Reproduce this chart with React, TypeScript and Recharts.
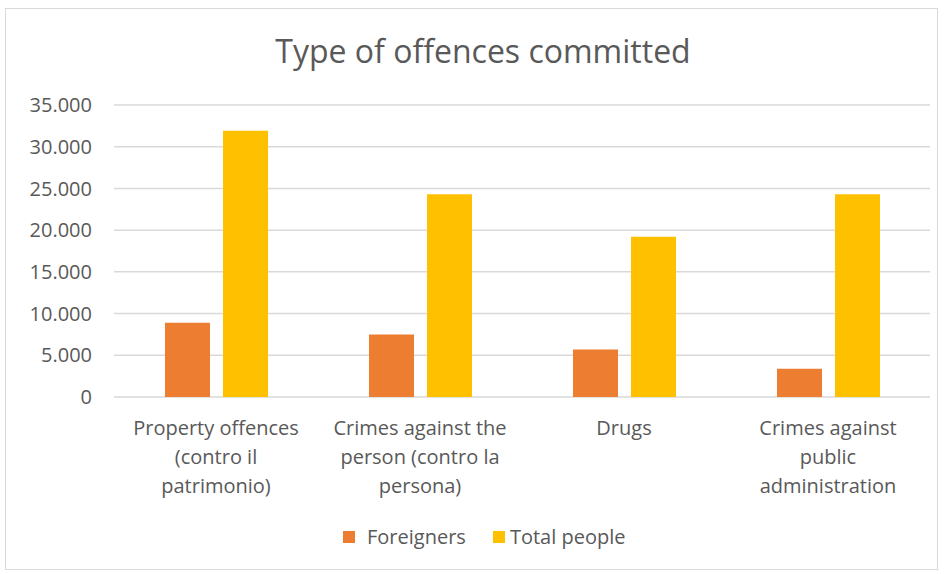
import React from "react";
import { BarChart, Bar, XAxis, YAxis, CartesianGrid, Legend } from "recharts";

const categories = [
  "Property offences\n(contro il\npatrimonio)",
  "Crimes against the\nperson (contro la\npersona)",
  "Drugs",
  "Crimes against\npublic\nadministration",
];
const foreigners = [8900, 7500, 5700, 3400];
const totalPeople = [31900, 24300, 19200, 24300];
const yTicks = [0, 5000, 10000, 15000, 20000, 25000, 30000, 35000];

const data = categories.map((c, i) => ({
  name: c,
  foreigners: foreigners[i],
  total: totalPeople[i],
}));

const FONT = "'Open Sans', sans-serif";
const GREY = "#595959";

const fmt = (v: number) =>
  String(v).replace(/\B(?=(\d{3})+(?!\d))/g, ".");

const XTick = (props: any) => {
  const { x, y, payload } = props;
  const lines = String(payload.value).split("\n");
  return (
    <text
      x={x}
      y={y + 30}
      textAnchor="middle"
      fill={GREY}
      fontSize={20}
      fontFamily={FONT}
    >
      {lines.map((l: string, i: number) => (
        <tspan key={i} x={x} dy={i === 0 ? 0 : 29}>
          {l}
        </tspan>
      ))}
    </text>
  );
};

const LegendContent = (props: any) => {
  const { payload } = props;
  return (
    <div
      style={{
        display: "flex",
        justifyContent: "flex-start",
        alignItems: "center",
        paddingLeft: 343,
        fontFamily: FONT,
        fontSize: 20,
        color: GREY,
        lineHeight: "26px",
      }}
    >
      {(payload || []).map((p: any, i: number) => (
        <div
          key={i}
          style={{
            display: "flex",
            alignItems: "center",
            marginRight: i === 0 ? 27 : 0,
          }}
        >
          <span
            style={{
              display: "inline-block",
              width: 12,
              height: 12,
              background: p.color,
              marginRight: i === 0 ? 12 : 5,
            }}
          />
          <span>{p.value}</span>
        </div>
      ))}
    </div>
  );
};

export default function App() {
  return (
    <div
      style={{
        position: "absolute",
        left: 0,
        top: 0,
        width: 947,
        height: 574,
        background: "#fff",
      }}
    >
      <div
        style={{
          position: "absolute",
          left: 5,
          top: 8,
          width: 933,
          height: 562,
          border: "1px solid #d9d9d9",
          boxSizing: "border-box",
        }}
      />
      <div
        style={{
          position: "absolute",
          left: 0,
          top: 28,
          width: 966,
          textAlign: "center",
          fontFamily: FONT,
          fontSize: 32,
          color: GREY,
          lineHeight: "46px",
        }}
      >
        Type of offences committed
      </div>
      <div style={{ position: "absolute", left: 0, top: 0 }}>
        <BarChart
          width={947}
          height={574}
          data={data}
          margin={{ top: 105, right: 17, left: 0, bottom: 51 }}
          barGap={13}
          barSize={45}
        >
          <CartesianGrid
            vertical={false}
            stroke="#d9d9d9"
            strokeWidth={1.5}
          />
          <XAxis
            dataKey="name"
            axisLine={false}
            tickLine={false}
            height={100}
            interval={0}
            tick={<XTick />}
          />
          <YAxis
            width={114}
            domain={[0, 35000]}
            ticks={yTicks}
            axisLine={false}
            tickLine={false}
            tickSize={0}
            tickMargin={22}
            tickFormatter={fmt}
            tick={{ fill: GREY, fontSize: 20, fontFamily: FONT }}
            interval={0}
          />
          <Legend
            content={<LegendContent />}
            wrapperStyle={{ position: "absolute", top: 524, left: 0, width: 947 }}
          />
          <Bar
            dataKey="foreigners"
            name="Foreigners"
            fill="#ED7D31"
            isAnimationActive={false}
          />
          <Bar
            dataKey="total"
            name="Total people"
            fill="#FFC000"
            isAnimationActive={false}
          />
        </BarChart>
      </div>
    </div>
  );
}
